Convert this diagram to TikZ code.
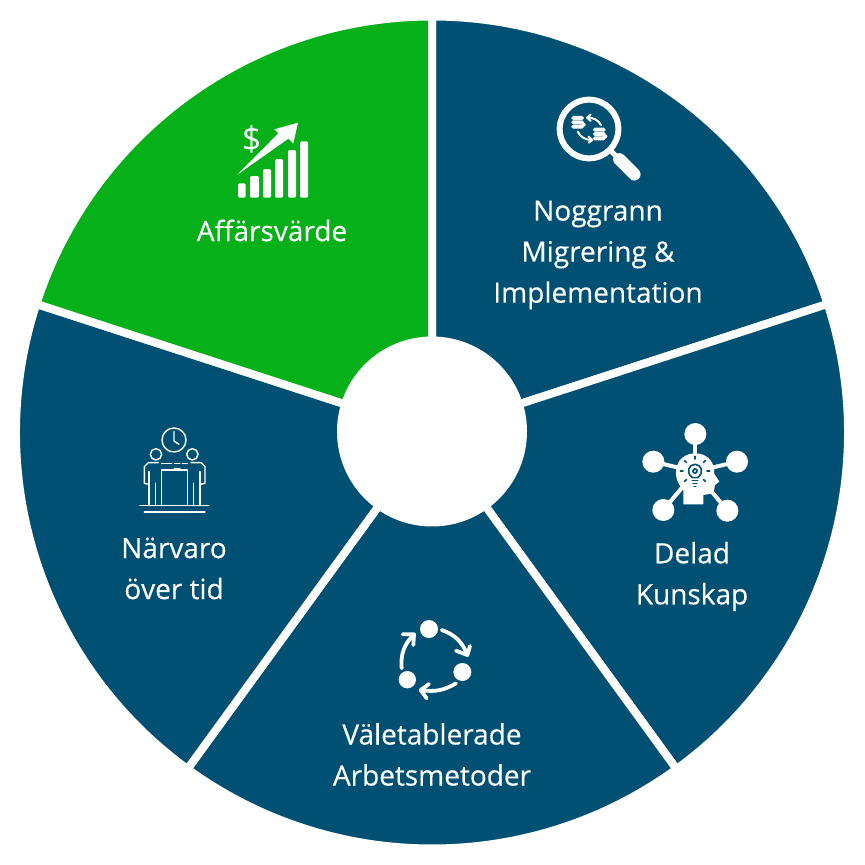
\documentclass[tikz,border=0pt]{standalone}
\usepackage{fontspec}
\setmainfont{Open Sans}[FakeBold=0.3]
\newfontfamily\plainfont{Open Sans}
\definecolor{wedgeblue}{RGB}{0,80,115}
\definecolor{wedgegreen}{RGB}{5,176,24}
\tikzset{icon/.style 2 args={shift={(#1-432,432.5-#2)},x=0.1667pt,y=-0.1667pt}}
\begin{document}
\begin{tikzpicture}[x=.5pt,y=.5pt]
    \tikzstyle{wedge}=[draw=white,line width=4pt,fill=wedgeblue]
    \tikzstyle{sectorlabel}=[text=white,align=center,font=\fontsize{14}{20.5}\selectfont]
    \tikzstyle{stroke}=[draw=white,line cap=round,line join=round]
    \tikzstyle{darkstroke}=[draw=wedgeblue,line cap=round,line join=round]

    \useasboundingbox (-432,-432.5) rectangle (432,432.5);

    \foreach \a in {90,18,-54,-126}
      \draw[wedge] (0,0) -- (\a:416) arc (\a:\a-72:416) -- cycle;
    \draw[wedge,fill=wedgegreen] (0,0) -- (162:416) arc (162:90:416) -- cycle;
    \node[circle,fill=white,inner sep=0,minimum size=95pt](hub) at (0,1){};

    \node[sectorlabel](value) at (-160,202){Affärsvärde};
    \node[sectorlabel](migration) at (166,177.5){Noggrann\\Migrering \&\\Implementation};
    \node[sectorlabel](knowledge) at (260,-144){Delad\\Kunskap};
    \node[sectorlabel](methods) at (0,-322){Väletablerade\\Arbetsmetoder};
    \node[sectorlabel](presence) at (-258,-136){Närvaro\\över tid};

    \begin{scope}[icon={210}{100}]
      \foreach \xa/\xb/\yt in {84/107/250,120/147/228,159/183/207,195/219/177,234/258/150,270/294/124}
        \fill[white,rounded corners=0.7pt] (\xa,\yt) rectangle (\xb,293);
      \fill[white] (82,224) -- (205,100) -- (193,88) -- (264,68) -- (250,130) -- (235,116) -- cycle;
      \node[text=white,font=\plainfont\fontsize{17}{17}\selectfont,inner sep=0](dollar) at (125,118){\$};
    \end{scope}

    \begin{scope}[icon={540}{80}]
      \draw[stroke,line width=3pt] (147,147) circle (88);
      \draw[stroke,line width=2.6pt] (212,212) -- (235,235);
      \draw[stroke,line width=6.2pt] (238,238) -- (283,283);
      \foreach \cx/\cy in {113/108,178/143}{
        \foreach \k in {0,13,26}
          \fill[white,rounded corners=0.9pt] (\cx-19,\cy+\k) rectangle (\cx+19,\cy+\k+12);
        \fill[white] (\cx+18,\cy+26) circle (6);
      }
      \draw[stroke,line width=1pt] (183,135) to[bend right=30] (143,113);
      \draw[stroke,line width=1pt] (152,104) -- (141,113) -- (152,123);
      \draw[stroke,line width=1pt] (113,155) to[bend right=30] (155,180);
      \draw[stroke,line width=1pt] (146,170) -- (157,180) -- (146,188);
    \end{scope}

    \begin{scope}[icon={630}{410}]
      \foreach \cx/\cy in {196/72,70/155,321/155,100/300,292/302}{
        \fill[white] (\cx,\cy) circle (33);
        \draw[stroke,line width=2pt] (\cx,\cy) -- (196,185);
      }
      \fill[white] (160,283) -- (160,240) .. controls (120,200) and (135,130) .. (196,130)
        .. controls (235,130) and (255,160) .. (252,190) -- (268,215) -- (255,225)
        -- (250,250) -- (220,255) -- (220,283) -- cycle;
      \draw[darkstroke,line width=.8pt] (187,203) .. controls (165,185) and (178,163) .. (195,163)
        .. controls (212,163) and (225,185) .. (203,203) -- cycle;
      \draw[darkstroke,line width=.8pt] (187,212) -- (203,212);
      \draw[darkstroke,line width=.8pt] (189,221) -- (201,221);
      \draw[darkstroke,line width=.6pt] (192,229) -- (198,229);
      \fill[wedgeblue] (195,183) circle (9);
      \fill[white] (195,183) circle (3.5);
      \foreach \a in {-90,-45,-135,0,180,45,135}
        \draw[darkstroke,line width=.8pt] ([shift={(\a:36)}]195,183) -- ([shift={(\a:44)}]195,183);
    \end{scope}

    \begin{scope}[icon={380}{610}]
      \fill[white] (147,57) circle (27);
      \fill[white] (247,186) circle (27);
      \fill[white] (82,209) circle (26);
      \draw[stroke,line width=1.9pt] (185,60) to[bend left=25] (262,135);
      \draw[stroke,line width=1.9pt] (228,122) -- (262,135) -- (270,108);
      \draw[stroke,line width=1.9pt] (228,220) to[bend left=20] (122,240);
      \draw[stroke,line width=1.9pt] (147,222) -- (122,240) -- (140,265);
      \draw[stroke,line width=1.9pt] (65,175) to[bend left=25] (102,73);
      \draw[stroke,line width=1.9pt] (68,73) -- (102,73) -- (100,105);
    \end{scope}

    \begin{scope}[icon={125}{415},line width=.7pt]
      \draw[stroke] (147,75) circle (36);
      \draw[stroke] (147,50) -- (147,78) -- (162,88);
      \draw[stroke] (93,118) circle (17);
      \draw[stroke] (202,118) circle (17);
      \draw[stroke] (45,272) -- (252,272);
      \draw[stroke] (58,291) -- (240,291);
      \draw[stroke] (110,272) -- (110,165) -- (187,165) -- (187,272);
      \draw[stroke] (110,145) -- (140,145);
      \draw[stroke] (148,145) -- (165,145);
      \draw[stroke] (172,145) -- (187,145);
      \draw[stroke] (148,160) -- (165,160);
      \draw[stroke] (72,208) -- (58,205) -- (58,155) -- (70,143) -- (100,143);
      \draw[stroke] (225,208) -- (240,205) -- (240,155) -- (228,143) -- (198,143);
      \draw[stroke] (72,170) -- (72,272);
      \draw[stroke] (92,205) -- (92,272);
      \draw[stroke] (225,170) -- (225,272);
      \draw[stroke] (205,205) -- (205,272);
    \end{scope}
  \end{tikzpicture}
\end{document}
